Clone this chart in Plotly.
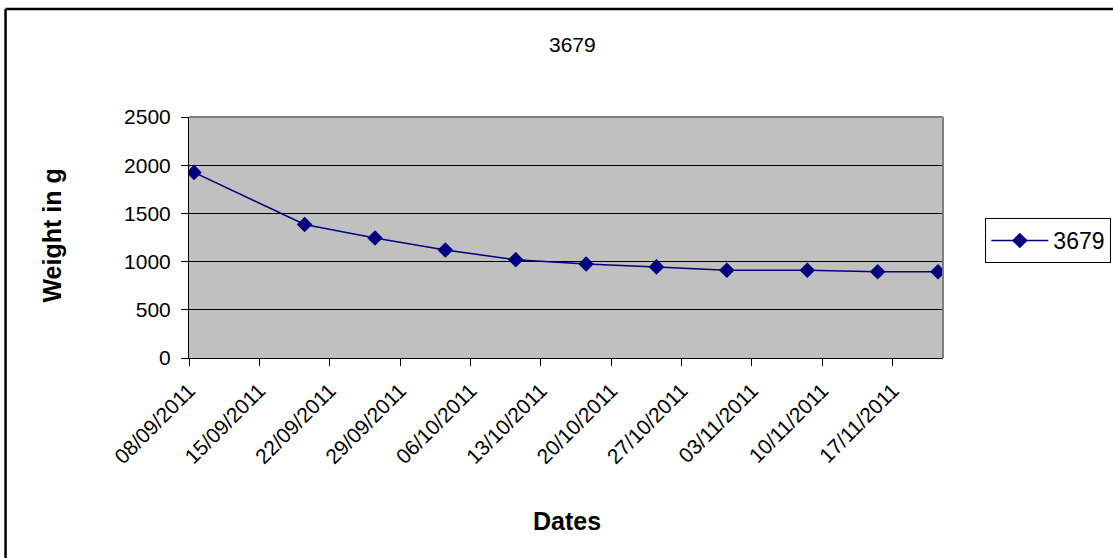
import plotly.graph_objects as go

# ---- data ----
dates = ["2011-09-08 12:00", "2011-09-19 12:00", "2011-09-26 12:00", "2011-10-03 12:00",
         "2011-10-10 12:00", "2011-10-17 12:00", "2011-10-24 12:00", "2011-10-31 12:00",
         "2011-11-08 12:00", "2011-11-15 12:00", "2011-11-21 12:00"]
weights = [1925, 1385, 1245, 1120, 1020, 975, 945, 910, 910, 895, 895]
series_name = "3679"
chart_title = "3679"
x_title = "Dates"
y_title = "Weight in g"

W, H = 1113, 558
L, R, T, B = 189.3, 942.7, 117, 358  # plot area in pixels


def px(x):
    return (x - L) / (R - L)


def py(y):
    return (B - y) / (B - T)


FONT = "Liberation Sans, Arial, sans-serif"
NAVY = "#000080"
TICK_SIZE = 21

fig = go.Figure()
fig.add_trace(go.Scatter(
    x=dates, y=weights, name=series_name, mode="lines+markers",
    line=dict(color=NAVY, width=1.5),
    marker=dict(symbol="diamond", size=12, color=NAVY),
))

fig.update_layout(
    width=W, height=H,
    margin=dict(l=L, r=W - R, t=T, b=H - B, pad=0, autoexpand=False),
    paper_bgcolor="white",
    plot_bgcolor="#C0C0C0",
    font=dict(family=FONT, color="black", size=TICK_SIZE),
    showlegend=True,
    legend=dict(x=px(985), y=py(218), xanchor="left", yanchor="top",
                bordercolor="black", borderwidth=1, bgcolor="white",
                font=dict(size=23), itemwidth=57, tracegroupgap=0),
    xaxis=dict(
        type="date", range=["2011-09-08", "2011-11-22"],
        tick0="2011-09-08", dtick=7 * 24 * 3600 * 1000,
        tickformat="%d/%m/%Y", tickangle=-45,
        ticks="outside", ticklen=7, tickcolor="black", tickwidth=1,
        showline=True, linecolor="black", linewidth=1,
        showgrid=False, zeroline=False,
        tickfont=dict(size=TICK_SIZE), ticklabelstandoff=4,
    ),
    yaxis=dict(
        range=[0, 2500], dtick=500, tick0=0,
        ticks="outside", ticklen=7, tickcolor="black", tickwidth=1,
        showline=True, linecolor="black", linewidth=1,
        showgrid=True, gridcolor="black", gridwidth=1,
        zeroline=False, tickfont=dict(size=TICK_SIZE), ticklabelstandoff=6,
    ),
    annotations=[
        dict(text=chart_title, x=px(572), y=py(45), xref="paper", yref="paper",
             showarrow=False, font=dict(size=TICK_SIZE), xanchor="center", yanchor="middle"),
        dict(text="<b>" + x_title + "</b>", x=px(567), y=py(521), xref="paper", yref="paper",
             showarrow=False, font=dict(size=25), xanchor="center", yanchor="middle"),
        dict(text="<b>" + y_title + "</b>", x=px(52), y=py(236), xref="paper", yref="paper",
             showarrow=False, font=dict(size=25), textangle=-90,
             xanchor="center", yanchor="middle"),
    ],
    shapes=[
        # gray frame on top and right of plot area
        dict(type="line", xref="paper", yref="paper", x0=0, x1=1, y0=1, y1=1,
             line=dict(color="#808080", width=2), layer="above"),
        dict(type="line", xref="paper", yref="paper", x0=1, x1=1, y0=0, y1=1,
             line=dict(color="#808080", width=2), layer="above"),
        # outer chart frame (left and top edges visible)
        dict(type="line", xref="paper", yref="paper", x0=px(6), x1=px(6), y0=py(600), y1=py(9),
             line=dict(color="black", width=2.5), layer="above"),
        dict(type="line", xref="paper", yref="paper", x0=px(6), x1=px(1200), y0=py(9), y1=py(9),
             line=dict(color="black", width=2.5), layer="above"),
    ],
)

fig.write_html("out.html")
